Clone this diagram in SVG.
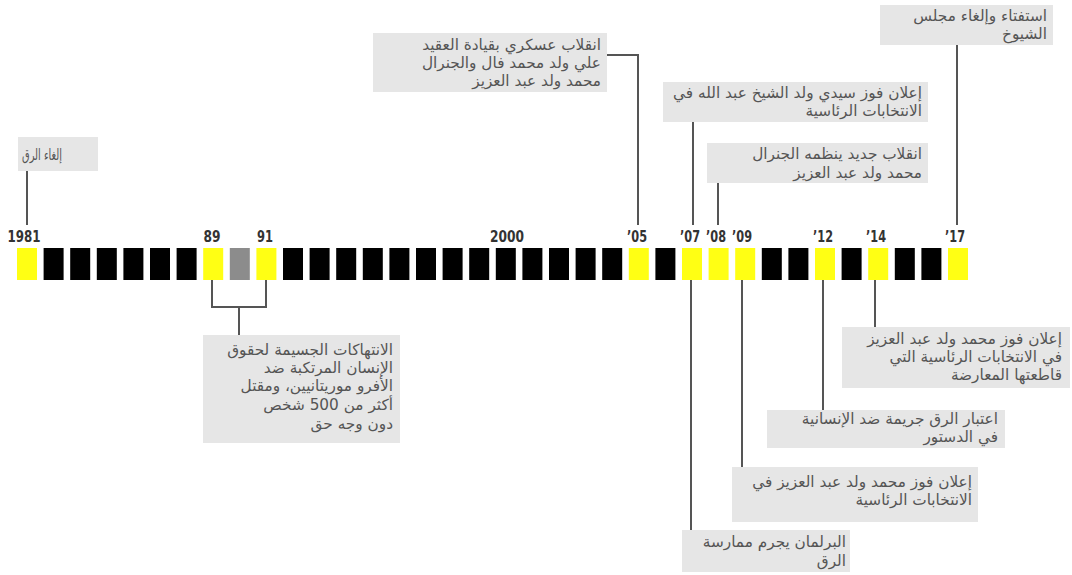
<svg xmlns="http://www.w3.org/2000/svg" width="1072" height="575" viewBox="0 0 1072 575">
<style>
.bg{fill:#ffffff}
.y{fill:#ffff14}
.k{fill:#000000}
.g{fill:#8c8c8c}
.yr{font-family:"DejaVu Sans Condensed","DejaVu Sans",sans-serif;font-weight:bold;font-size:15px;fill:#333333;text-anchor:middle}
.box{fill:#e6e6e6}
.t{font-family:"DejaVu Sans",sans-serif;font-size:15.3px;fill:#555555;direction:rtl;text-anchor:start}
.ln{fill:none;stroke:#555555;stroke-width:2}
</style>
<rect class="bg" x="0" y="0" width="1072" height="575"/>
<g id="timeline">
<rect class="y" x="17" y="248" width="20" height="32"/>
<rect class="k" x="43.6" y="248" width="20" height="32"/>
<rect class="k" x="70.2" y="248" width="20" height="32"/>
<rect class="k" x="96.8" y="248" width="20" height="32"/>
<rect class="k" x="123.4" y="248" width="20" height="32"/>
<rect class="k" x="150" y="248" width="20" height="32"/>
<rect class="k" x="176.6" y="248" width="20" height="32"/>
<rect class="y" x="203.2" y="248" width="20" height="32"/>
<rect class="g" x="229.8" y="248" width="20" height="32"/>
<rect class="y" x="256.4" y="248" width="20" height="32"/>
<rect class="k" x="283" y="248" width="20" height="32"/>
<rect class="k" x="309.6" y="248" width="20" height="32"/>
<rect class="k" x="336.2" y="248" width="20" height="32"/>
<rect class="k" x="362.8" y="248" width="20" height="32"/>
<rect class="k" x="389.4" y="248" width="20" height="32"/>
<rect class="k" x="416" y="248" width="20" height="32"/>
<rect class="k" x="442.6" y="248" width="20" height="32"/>
<rect class="k" x="469.2" y="248" width="20" height="32"/>
<rect class="k" x="495.8" y="248" width="20" height="32"/>
<rect class="k" x="522.4" y="248" width="20" height="32"/>
<rect class="k" x="549" y="248" width="20" height="32"/>
<rect class="k" x="575.6" y="248" width="20" height="32"/>
<rect class="k" x="602.2" y="248" width="20" height="32"/>
<rect class="y" x="628.8" y="248" width="20" height="32"/>
<rect class="k" x="655.4" y="248" width="20" height="32"/>
<rect class="y" x="682" y="248" width="20" height="32"/>
<rect class="y" x="708.6" y="248" width="20" height="32"/>
<rect class="y" x="735.2" y="248" width="20" height="32"/>
<rect class="k" x="761.8" y="248" width="20" height="32"/>
<rect class="k" x="788.4" y="248" width="20" height="32"/>
<rect class="y" x="815" y="248" width="20" height="32"/>
<rect class="k" x="841.6" y="248" width="20" height="32"/>
<rect class="y" x="868.2" y="248" width="20" height="32"/>
<rect class="k" x="894.8" y="248" width="20" height="32"/>
<rect class="k" x="921.4" y="248" width="20" height="32"/>
<rect class="y" x="948" y="248" width="20" height="32"/>
</g>
<g id="year-labels">
<text class="yr" x="24" y="242" textLength="33" lengthAdjust="spacingAndGlyphs">1981</text>
<text class="yr" x="212" y="242" textLength="17" lengthAdjust="spacingAndGlyphs">89</text>
<text class="yr" x="265" y="242" textLength="16" lengthAdjust="spacingAndGlyphs">91</text>
<text class="yr" x="507" y="242" textLength="34" lengthAdjust="spacingAndGlyphs">2000</text>
<text class="yr" x="637" y="242" textLength="20" lengthAdjust="spacingAndGlyphs">’05</text>
<text class="yr" x="690" y="242" textLength="20" lengthAdjust="spacingAndGlyphs">’07</text>
<text class="yr" x="716" y="242" textLength="20" lengthAdjust="spacingAndGlyphs">’08</text>
<text class="yr" x="742" y="242" textLength="20" lengthAdjust="spacingAndGlyphs">’09</text>
<text class="yr" x="823" y="242" textLength="20" lengthAdjust="spacingAndGlyphs">’12</text>
<text class="yr" x="876" y="242" textLength="20" lengthAdjust="spacingAndGlyphs">’14</text>
<text class="yr" x="955" y="242" textLength="20" lengthAdjust="spacingAndGlyphs">’17</text>
</g>
<g id="connectors">
<path class="ln" d="M27 171 V225"/>
<path class="ln" d="M212 280 V307 H266 V280 M239 307 V335"/>
<path class="ln" d="M607 55 H638 V225"/>
<path class="ln" d="M693 122 V225"/>
<path class="ln" d="M718 183 V225"/>
<path class="ln" d="M957 45 V225"/>
<path class="ln" d="M691 280 V530"/>
<path class="ln" d="M742 280 V467"/>
<path class="ln" d="M823 280 V410"/>
<path class="ln" d="M875 280 V327"/>
</g>
<g id="n1981">
<rect class="box" x="18" y="137" width="80" height="34"/>
<text class="t" x="62" y="160" textLength="40" lengthAdjust="spacingAndGlyphs">إلغاء الرق</text>
</g>
<g id="n2005">
<rect class="box" x="373" y="33" width="234" height="59"/>
<text class="t" x="601" y="50">انقلاب عسكري بقيادة العقيد</text>
<text class="t" x="601" y="68">علي ولد محمد فال والجنرال</text>
<text class="t" x="601" y="86">محمد ولد عبد العزيز</text>
</g>
<g id="n2007a">
<rect class="box" x="663" y="82" width="265" height="40"/>
<text class="t" x="922" y="98">إعلان فوز سيدي ولد الشيخ عبد الله في</text>
<text class="t" x="922" y="116">الانتخابات الرئاسية</text>
</g>
<g id="n2008">
<rect class="box" x="707" y="143" width="221" height="40"/>
<text class="t" x="922" y="159">انقلاب جديد ينظمه الجنرال</text>
<text class="t" x="922" y="178">محمد ولد عبد العزيز</text>
</g>
<g id="n2017">
<rect class="box" x="880" y="5" width="173" height="40"/>
<text class="t" x="1047" y="21">استفتاء وإلغاء مجلس</text>
<text class="t" x="1047" y="39">الشيوخ</text>
</g>
<g id="n1989">
<rect class="box" x="203" y="335" width="197" height="108"/>
<text class="t" x="393" y="355">الانتهاكات الجسيمة لحقوق</text>
<text class="t" x="393" y="373">الإنسان المرتكبة ضد</text>
<text class="t" x="393" y="391">الأفرو موريتانيين، ومقتل</text>
<text class="t" x="393" y="410">أكثر من 500 شخص</text>
<text class="t" x="393" y="429">دون وجه حق</text>
</g>
<g id="n2014">
<rect class="box" x="842" y="327" width="228" height="61"/>
<text class="t" x="1062" y="344">إعلان فوز محمد ولد عبد العزيز</text>
<text class="t" x="1062" y="362">في الانتخابات الرئاسية التي</text>
<text class="t" x="1062" y="380">قاطعتها المعارضة</text>
</g>
<g id="n2012">
<rect class="box" x="767" y="410" width="238" height="38"/>
<text class="t" x="998" y="424">اعتبار الرق جريمة ضد الإنسانية</text>
<text class="t" x="998" y="442">في الدستور</text>
</g>
<g id="n2009">
<rect class="box" x="732" y="467" width="246" height="55"/>
<text class="t" x="972" y="487">إعلان فوز محمد ولد عبد العزيز في</text>
<text class="t" x="972" y="505">الانتخابات الرئاسية</text>
</g>
<g id="n2007b">
<rect class="box" x="682" y="530" width="168" height="42"/>
<text class="t" x="846" y="547">البرلمان يجرم ممارسة</text>
<text class="t" x="846" y="566">الرق</text>
</g>
</svg>
